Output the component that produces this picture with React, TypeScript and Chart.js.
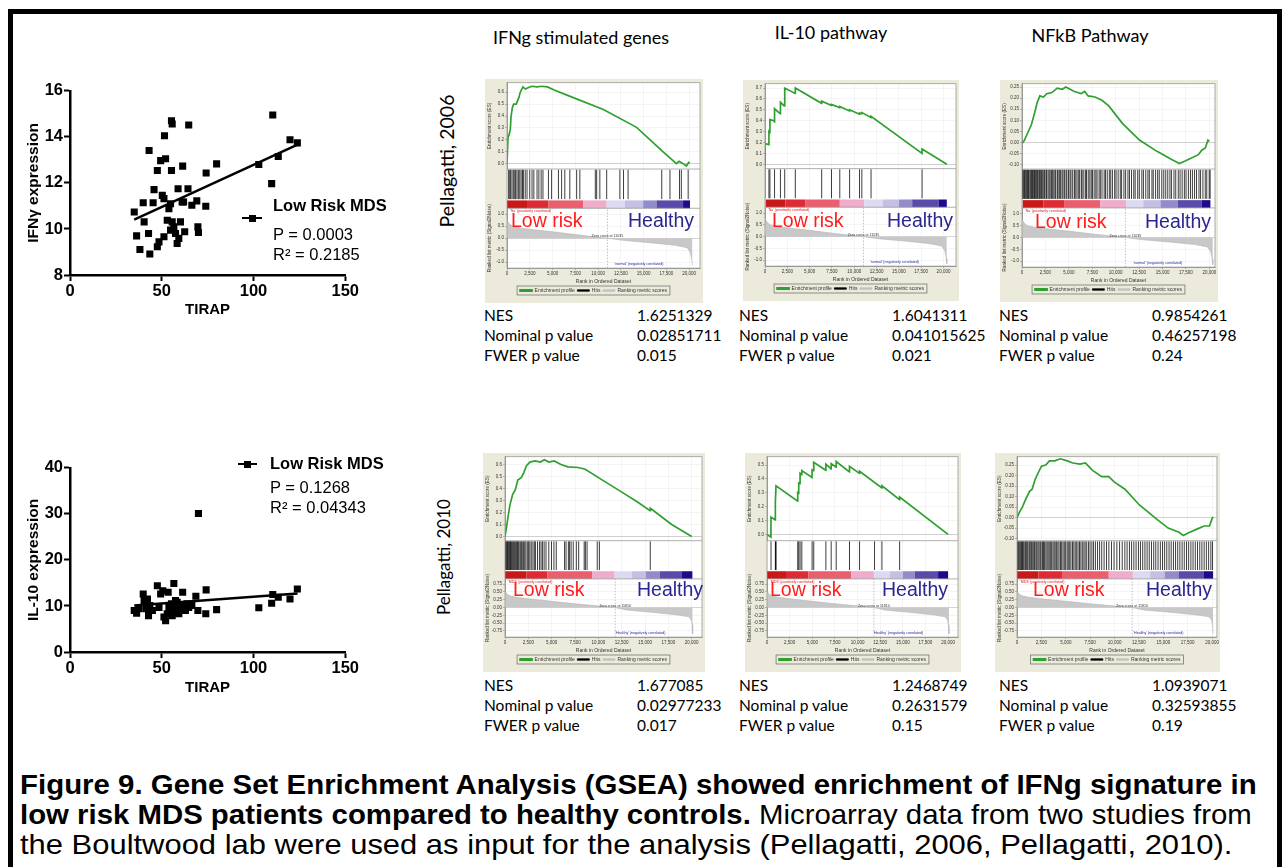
import React, { useEffect, useLayoutEffect, useRef } from 'react';
import { Chart, registerables } from 'chart.js';
Chart.register(...registerables);

const FONT_SANS = "'Liberation Sans', Arial, sans-serif";
const FONT_HUMAN = "Lato, 'Open Sans', sans-serif";

// ---------- Scatter: IFNγ vs TIRAP ----------
const ifngTirap = [35.0, 36.3, 38.1, 40.4, 39.9, 43.1, 42.8, 43.5, 45.3, 45.8, 47.6, 47.6, 48.5, 49.4, 50.3, 51.2, 51.5, 52.1, 51.2, 53.0, 53.9, 54.8, 55.3, 55.3, 55.7, 54.8, 55.7, 56.6, 57.5, 58.9, 58.4, 59.3, 60.2, 61.1, 61.4, 61.9, 62.5, 64.3, 64.7, 66.4, 69.1, 69.7, 70.0, 74.0, 74.2, 79.9, 102.9, 109.9, 110.5, 113.5, 119.9, 123.9];
const ifngExpr = [10.74, 9.70, 9.11, 10.31, 11.14, 13.41, 9.80, 8.91, 11.14, 11.71, 12.54, 9.23, 9.44, 12.97, 11.46, 11.32, 14.05, 13.05, 9.66, 10.38, 10.88, 11.10, 12.54, 14.70, 14.56, 9.95, 10.31, 10.09, 9.80, 11.75, 9.37, 9.59, 10.31, 11.17, 12.73, 11.17, 9.88, 11.75, 14.52, 11.03, 11.22, 10.09, 9.85, 10.99, 12.43, 12.83, 12.80, 11.97, 14.95, 13.15, 13.88, 13.74];
const ifngFitX = [35, 124];
const ifngFitY = [10.41, 13.67];

// ---------- Scatter: IL-10 vs TIRAP ----------
const il10Tirap = [35.0, 36.3, 37.4, 39.9, 40.4, 41.3, 42.2, 42.8, 43.5, 44.9, 47.6, 48.5, 49.4, 50.6, 51.2, 52.1, 53.0, 53.5, 53.9, 54.8, 55.3, 55.7, 56.6, 57.1, 57.8, 58.4, 59.3, 60.2, 61.4, 61.9, 62.9, 63.8, 64.7, 66.4, 68.6, 69.7, 70.0, 74.0, 74.2, 79.9, 102.9, 109.9, 110.5, 113.5, 119.9, 123.9, 57.5];
const il10Expr = [9.0, 8.4, 9.4, 12.6, 11.2, 9.4, 11.5, 7.9, 10.1, 9.0, 14.4, 9.7, 12.6, 13.3, 7.6, 6.8, 8.3, 13.0, 9.7, 8.6, 10.5, 7.9, 14.9, 9.7, 8.6, 10.8, 8.3, 9.4, 13.0, 10.1, 9.0, 10.5, 9.7, 10.1, 12.1, 9.0, 30.1, 8.3, 13.5, 9.2, 9.6, 10.6, 12.5, 11.9, 11.5, 13.7, 11.2];
const il10FitX = [35, 124];
const il10FitY = [10.1, 12.7];

// ---------- GSEA enrichment profiles ----------
const esA_x = [0, 110, 255, 365, 440, 585, 730, 1020, 1280, 1460, 1750, 2010, 2370, 2740, 3285, 3830, 4450, 5110, 6935, 10585, 14235, 17150, 18610, 18900, 19340, 19710, 19960, 20080];
const esA_y = [0, 0.22, 0.25, 0.29, 0.39, 0.47, 0.50, 0.50, 0.55, 0.60, 0.645, 0.627, 0.64, 0.65, 0.645, 0.65, 0.645, 0.62, 0.565, 0.455, 0.305, 0.10, 0.0, 0.02, 0.0, -0.02, 0.01, 0.005];
const hitsA = [180, 300, 400, 550, 700, 850, 950, 1100, 1250, 1400, 1550, 1700, 1800, 2000, 2200, 2500, 2750, 2950, 3300, 3500, 3750, 3950, 4550, 4900, 5650, 6000, 6350, 6900, 7650, 8000, 9700, 9850, 10200, 10950, 12400, 12800, 13300, 17000, 17900, 18950, 19150, 19900];

const esB_x = [0, 5, 430, 440, 540, 550, 1000, 1060, 1070, 1620, 1720, 1730, 2100, 2200, 2210, 3380, 3395, 6340, 6350, 7440, 7450, 8370, 8380, 9470, 9480, 10580, 10590, 10840, 10850, 11870, 11880, 17590, 17600, 20370];
const esB_y = [0, 0.19, 0.18, 0.30, 0.29, 0.41, 0.40, 0.39, 0.51, 0.47, 0.465, 0.57, 0.54, 0.535, 0.70, 0.65, 0.70, 0.56, 0.58, 0.54, 0.55, 0.52, 0.53, 0.49, 0.50, 0.46, 0.47, 0.465, 0.475, 0.43, 0.44, 0.10, 0.14, 0.0];
const hitsB = [0, 440, 550, 1070, 1730, 2210, 3395, 6350, 7450, 8380, 9480, 10590, 10850, 11880, 17600];

const esC_x = [0, 255, 625, 1000, 1360, 1620, 1910, 2280, 2650, 3200, 3750, 4300, 4670, 5590, 6320, 6690, 7060, 7790, 8530, 9260, 10740, 12570, 14410, 15880, 16800, 17350, 18090, 18820, 19190, 19560, 19850, 20000];
const esC_y = [-0.005, 0.01, 0.045, 0.08, 0.135, 0.18, 0.21, 0.205, 0.22, 0.225, 0.245, 0.24, 0.25, 0.23, 0.22, 0.23, 0.21, 0.205, 0.19, 0.165, 0.085, 0.01, -0.04, -0.075, -0.095, -0.085, -0.07, -0.055, -0.035, -0.025, 0.01, 0.005];
const hitsC = [60, 150, 260, 330, 420, 510, 580, 690, 760, 880, 970, 1040, 1130, 1210, 1330, 1390, 1480, 1570, 1660, 1790, 1880, 1960, 2090, 2170, 2320, 2410, 2560, 2630, 2780, 2900, 3010, 3160, 3240, 3390, 3520, 3600, 3770, 3850, 3990, 4120, 4270, 4380, 4530, 4700, 4790, 4960, 5120, 5230, 5410, 5590, 5680, 5860, 6010, 6150, 6330, 6420, 6600, 6790, 6880, 7070, 7240, 7390, 7520, 7700, 7880, 8010, 8230, 8360, 8540, 8770, 8910, 9100, 9320, 9470, 9650, 9890, 10040, 10260, 10490, 10630, 10880, 11060, 11310, 11470, 11690, 11930, 12080, 12350, 12520, 12790, 12960, 13210, 13440, 13590, 13870, 14010, 14260, 14480, 14650, 14920, 15130, 15340, 15560, 15790, 15950, 16220, 16410, 16680, 16870, 17090, 17330, 17510, 17760, 17980, 18190, 18420, 18630, 18890, 19060, 19310, 19560, 19720, 19980, 20080];

const esD_x = [0, 150, 300, 520, 815, 1110, 1370, 1740, 2000, 2300, 2670, 3220, 3780, 4220, 4700, 5260, 6000, 6740, 7850, 8590, 10440, 12300, 14150, 15540, 15570, 17850, 20000];
const esD_y = [0, 0.07, 0.15, 0.26, 0.35, 0.39, 0.47, 0.49, 0.53, 0.59, 0.62, 0.63, 0.62, 0.64, 0.62, 0.63, 0.60, 0.58, 0.575, 0.56, 0.47, 0.38, 0.29, 0.215, 0.235, 0.10, 0.0];
const hitsD = [30, 110, 190, 260, 340, 420, 500, 590, 660, 740, 830, 930, 1030, 1140, 1250, 1330, 1420, 1510, 1640, 1750, 1850, 1990, 2110, 2240, 2390, 2530, 2660, 2810, 2990, 3140, 3260, 3480, 3690, 3860, 4010, 4190, 4390, 4690, 4980, 5240, 5490, 6380, 6540, 6790, 6920, 7080, 7310, 7640, 7890, 8480, 8610, 8790, 9880, 10110, 15560];

const esE_x = [0, 430, 443, 910, 923, 996, 3390, 3395, 3500, 3506, 3650, 3653, 3840, 3845, 4970, 4982, 5160, 5166, 6500, 6505, 7085, 7090, 7640, 7645, 9110, 9115, 10220, 10225, 12690, 12695, 14645, 14650, 20000];
const esE_y = [0, -0.02, 0.125, 0.105, 0.23, 0.35, 0.24, 0.30, 0.295, 0.37, 0.365, 0.44, 0.43, 0.46, 0.41, 0.465, 0.46, 0.52, 0.462, 0.507, 0.473, 0.51, 0.485, 0.525, 0.45, 0.49, 0.44, 0.455, 0.335, 0.35, 0.25, 0.27, 0.0];
const hitsE = [443, 923, 960, 996, 3395, 3506, 3653, 3845, 4982, 5166, 6505, 7090, 7645, 9115, 10225, 11880, 12695, 14650];

const esF_x = [0, 295, 550, 920, 1290, 1550, 1845, 2140, 2510, 2950, 3320, 3875, 4430, 5170, 5720, 6460, 7010, 7750, 8670, 9410, 9960, 11070, 12550, 14390, 15500, 16610, 17050, 17710, 18450, 19190, 19740, 20000, 20110];
const esF_y = [0, 0.03, 0.05, 0.09, 0.125, 0.135, 0.18, 0.21, 0.245, 0.25, 0.27, 0.27, 0.28, 0.27, 0.26, 0.255, 0.26, 0.225, 0.195, 0.195, 0.17, 0.135, 0.06, -0.01, -0.05, -0.07, -0.085, -0.07, -0.055, -0.04, -0.04, -0.005, 0.003];
const hitsF = [40, 130, 210, 300, 390, 470, 560, 640, 730, 850, 930, 1020, 1110, 1240, 1320, 1430, 1510, 1620, 1730, 1810, 1940, 2030, 2150, 2260, 2380, 2470, 2610, 2720, 2830, 2960, 3080, 3190, 3310, 3450, 3560, 3690, 3810, 3920, 4060, 4190, 4310, 4460, 4580, 4720, 4850, 4990, 5140, 5260, 5400, 5530, 5690, 5830, 5970, 6120, 6260, 6410, 6550, 6700, 6860, 6990, 7150, 7330, 7490, 7680, 7850, 8040, 8260, 8470, 8690, 8930, 9180, 9420, 9690, 9950, 10240, 10520, 10790, 11060, 11290, 11530, 11750, 11980, 12210, 12450, 12660, 12890, 13120, 13340, 13560, 13790, 14020, 14230, 14460, 14700, 14920, 15140, 15360, 15590, 15810, 16040, 16260, 16480, 16700, 16930, 17150, 17380, 17600, 17830, 18050, 18280, 18510, 18740, 18960, 19190, 19420, 19650, 19880, 20050];

// ranked list metric (Signal2Noise)
const rank2006_x = [0, 200, 600, 1500, 3000, 5000, 7500, 11035, 13000, 16000, 18500, 19800, 20150, 20300, 20370];
const rank2006_y = [0.78, 0.62, 0.5, 0.42, 0.35, 0.27, 0.15, 0, -0.1, -0.2, -0.3, -0.4, -0.6, -0.9, -1.15];
const rank2010_x = [0, 150, 500, 1200, 2500, 5000, 7500, 11810, 13000, 16000, 18500, 19700, 19950, 20050, 20100];
const rank2010_y = [0.55, 0.45, 0.38, 0.33, 0.28, 0.2, 0.12, 0, -0.08, -0.16, -0.24, -0.3, -0.4, -0.55, -0.85];

// tick labels
const rankAxisTicks = [0, 2500, 5000, 7500, 10000, 12500, 15000, 17500, 20000];
const esTicksA = [0, 0.1, 0.2, 0.3, 0.4, 0.5, 0.6];
const esTicksB = [0, 0.1, 0.2, 0.3, 0.4, 0.5, 0.6, 0.7];
const esTicksC = [-0.1, -0.05, 0, 0.05, 0.1, 0.15, 0.2, 0.25];
const esTicksD = [0, 0.1, 0.2, 0.3, 0.4, 0.5, 0.6];
const esTicksE = [0, 0.1, 0.2, 0.3, 0.4, 0.5];
const esTicksF = [-0.1, -0.05, 0, 0.05, 0.1, 0.15, 0.2, 0.25];
const metricTicks2006 = [-1, -0.5, 0, 0.5, 1];
const metricTicks2010 = [-0.75, -0.5, -0.25, 0, 0.25, 0.5, 0.75];

// phenotype colour bar edges (rank positions)
const BAR_COLORS = ['#c91818', '#de2a34', '#ea5e6e', '#efaccb', '#dcdaf0', '#c4c0e4', '#928ccb', '#5a4aaa', '#1c0a8a'];
const barA = [0, 2200, 4560, 8390, 10950, 12960, 14960, 16420, 19340, 20100];
const barB = [70, 2290, 4500, 8380, 11140, 13170, 15020, 16490, 19450, 20370];
const barC = [70, 2280, 4490, 8350, 11100, 12940, 14780, 16620, 19190, 20110];
const barD = [0, 2300, 4520, 9330, 11740, 13590, 15070, 16560, 18960, 20070];
const barE = [0, 2100, 4580, 9300, 11810, 13550, 15020, 16310, 18900, 20000];
const barF = [0, 2210, 4610, 9410, 11880, 13650, 15130, 16610, 19110, 20110];

// statistics tables
const statLabels = ['NES', 'Nominal p value', 'FWER p value'];
const statsA = ['1.6251329', '0.02851711', '0.015'];
const statsB = ['1.6041311', '0.041015625', '0.021'];
const statsC = ['0.9854261', '0.46257198', '0.24'];
const statsD = ['1.677085', '0.02977233', '0.017'];
const statsE = ['1.2468749', '0.2631579', '0.15'];
const statsF = ['1.0939071', '0.32593855', '0.19'];

const columnTitles = ['IFNg stimulated genes', 'IL-10 pathway', 'NFkB Pathway'];

type Panel = {
  left: number; top: number; w: number; h: number;
  esX: number[]; esY: number[]; hits: number[];
  rankX: number[]; rankY: number[];
  esMin: number; esMax: number; esTicks: number[]; esDec: number;
  rankMin: number; rankMax: number; rankTicks: number[]; rankDec: number;
  xMax: number; bar: number[]; zeroCross: number;
  posLabel: string; negLabel: string;
};

const pos06 = "'Na' (positively correlated)";
const neg06 = "'normal' (negatively correlated)";
const pos10 = "'MDS' (positively correlated)";
const neg10 = "'Healthy' (negatively correlated)";

const panels: Panel[] = [
  { left: 485, top: 79, w: 218, h: 224, esX: esA_x, esY: esA_y, hits: hitsA, rankX: rank2006_x, rankY: rank2006_y, esMin: -0.045, esMax: 0.68, esTicks: esTicksA, esDec: 1, rankMin: -1.25, rankMax: 1.25, rankTicks: metricTicks2006, rankDec: 1, xMax: 21200, bar: barA, zeroCross: 11035, posLabel: pos06, negLabel: neg06 },
  { left: 743, top: 80, w: 216, h: 221, esX: esB_x, esY: esB_y, hits: hitsB, rankX: rank2006_x, rankY: rank2006_y, esMin: -0.04, esMax: 0.74, esTicks: esTicksB, esDec: 1, rankMin: -1.25, rankMax: 1.25, rankTicks: metricTicks2006, rankDec: 1, xMax: 21400, bar: barB, zeroCross: 11035, posLabel: pos06, negLabel: neg06 },
  { left: 1000, top: 80, w: 218, h: 222, esX: esC_x, esY: esC_y, hits: hitsC, rankX: rank2006_x, rankY: rank2006_y, esMin: -0.12, esMax: 0.265, esTicks: esTicksC, esDec: 2, rankMin: -1.25, rankMax: 1.25, rankTicks: metricTicks2006, rankDec: 1, xMax: 20600, bar: barC, zeroCross: 11035, posLabel: pos06, negLabel: neg06 },
  { left: 483, top: 453, w: 222, h: 219, esX: esD_x, esY: esD_y, hits: hitsD, rankX: rank2010_x, rankY: rank2010_y, esMin: -0.035, esMax: 0.665, esTicks: esTicksD, esDec: 1, rankMin: -0.95, rankMax: 0.92, rankTicks: metricTicks2010, rankDec: 2, xMax: 21100, bar: barD, zeroCross: 11810, posLabel: pos10, negLabel: neg10 },
  { left: 745, top: 453, w: 216, h: 219, esX: esE_x, esY: esE_y, hits: hitsE, rankX: rank2010_x, rankY: rank2010_y, esMin: -0.045, esMax: 0.56, esTicks: esTicksE, esDec: 1, rankMin: -0.95, rankMax: 0.92, rankTicks: metricTicks2010, rankDec: 2, xMax: 21100, bar: barE, zeroCross: 11810, posLabel: pos10, negLabel: neg10 },
  { left: 995, top: 453, w: 225, h: 219, esX: esF_x, esY: esF_y, hits: hitsF, rankX: rank2010_x, rankY: rank2010_y, esMin: -0.11, esMax: 0.29, esTicks: esTicksF, esDec: 2, rankMin: -0.95, rankMax: 0.92, rankTicks: metricTicks2010, rankDec: 2, xMax: 20500, bar: barF, zeroCross: 11810, posLabel: pos10, negLabel: neg10 },
];

const panelStats = [statsA, statsB, statsC, statsD, statsE, statsF];

// ---------------- chart builders ----------------
function scatterConfig(xs: number[], ys: number[], fx: number[], fy: number[], yMin: number, yMax: number, yStep: number, yTitle: string, titlePadBottom: number): any {
  return {
    type: 'scatter',
    data: {
      datasets: [
        { data: xs.map((x, i) => ({ x, y: ys[i] })), pointStyle: 'rect', pointRadius: 5, pointBackgroundColor: '#000', pointBorderColor: '#000', pointBorderWidth: 0 },
        { type: 'line', data: fx.map((x, i) => ({ x, y: fy[i] })), borderColor: '#000', borderWidth: 2.5, pointRadius: 0, showLine: true },
      ],
    },
    options: {
      animation: false, responsive: false, events: [],
      layout: { padding: { top: 10, right: 11, left: 0, bottom: 0 } },
      plugins: { legend: { display: false }, tooltip: { enabled: false } },
      scales: {
        x: {
          type: 'linear', min: 0, max: 150,
          ticks: { stepSize: 50, color: '#000', font: { family: FONT_SANS, size: 16.5, weight: 'bold' }, padding: 1, maxRotation: 0 },
          grid: { drawOnChartArea: false, tickLength: 6, tickWidth: 2, tickColor: '#000' },
          border: { color: '#000', width: 2.5 },
          title: { display: true, text: 'TIRAP', color: '#000', font: { family: FONT_SANS, size: 15, weight: 'bold' }, padding: { top: 0, bottom: titlePadBottom } },
          afterFit: (s: any) => { s.height = 50; },
        },
        y: {
          type: 'linear', min: yMin, max: yMax,
          ticks: { stepSize: yStep, color: '#000', font: { family: FONT_SANS, size: 16.5, weight: 'bold' }, padding: 1 },
          grid: { drawOnChartArea: false, tickLength: 6, tickWidth: 2, tickColor: '#000' },
          border: { color: '#000', width: 2.5 },
          title: { display: true, text: yTitle, color: '#000', font: { family: FONT_SANS, size: 15.5, weight: 'bold' }, padding: { top: 4, bottom: 0 } },
          afterFit: (s: any) => { s.width = 50; },
        },
      },
    },
  };
}

const gseaPlugin = {
  id: 'gsea',
  beforeDraw(chart: any) {
    const { ctx, chartArea } = chart;
    ctx.save();
    ctx.fillStyle = '#ffffff';
    ctx.fillRect(chartArea.left, chartArea.top, chartArea.width, chartArea.height);
    ctx.restore();
  },
  afterDatasetsDraw(chart: any, _args: any, opts: any) {
    const { ctx, chartArea } = chart;
    const xs = chart.scales.x, yh = chart.scales.yHits, yr = chart.scales.yRank;
    const bar: number[] = opts.bar;
    const top = yh.getPixelForValue(0), bot = yh.getPixelForValue(-0.25);
    ctx.save();
    for (let i = 0; i < bar.length - 1; i++) {
      const a = xs.getPixelForValue(bar[i]);
      const b = xs.getPixelForValue(bar[i + 1]);
      ctx.fillStyle = BAR_COLORS[i];
      ctx.fillRect(a, top, b - a, bot - top);
    }
    ctx.strokeStyle = '#9a9a9a';
    ctx.lineWidth = 0.8;
    [yh.top, yh.bottom].forEach((y: number) => {
      ctx.beginPath(); ctx.moveTo(chartArea.left, y); ctx.lineTo(chartArea.right, y); ctx.stroke();
    });
    ctx.strokeRect(chartArea.left, chartArea.top, chartArea.width, chartArea.height);
    ctx.font = `3.6px ${FONT_SANS}`;
    ctx.textBaseline = 'middle';
    ctx.fillStyle = '#e01818';
    ctx.textAlign = 'left';
    ctx.fillText(opts.posLabel, chartArea.left + 3, yr.top + 3);
    ctx.fillStyle = '#333';
    ctx.textAlign = 'center';
    ctx.fillText(`Zero cross at ${opts.zeroCross}`, xs.getPixelForValue(opts.zeroCross), yr.getPixelForValue(0) - 2);
    ctx.fillStyle = '#2020a0';
    ctx.fillText(opts.negLabel, xs.getPixelForValue(14500), yr.bottom - 4);
    ctx.restore();
  },
  afterDraw(chart: any) {
    const l = chart.legend;
    if (!l || !l.legendHitBoxes || !l.legendHitBoxes.length) return;
    const boxes = l.legendHitBoxes;
    let minX = Infinity, maxX = -Infinity, minY = Infinity, maxY = -Infinity;
    boxes.forEach((b: any) => {
      minX = Math.min(minX, b.left); maxX = Math.max(maxX, b.left + b.width);
      minY = Math.min(minY, b.top); maxY = Math.max(maxY, b.top + b.height);
    });
    const { ctx } = chart;
    ctx.save();
    ctx.strokeStyle = '#777';
    ctx.lineWidth = 0.8;
    ctx.strokeRect(minX - 3, minY - 2, maxX - minX + 6, maxY - minY + 4);
    ctx.restore();
  },
};

function fixedTicks(values: number[]) {
  return (s: any) => { s.ticks = values.map((v) => ({ value: v })); };
}

function gseaConfig(p: Panel): any {
  const hitData: any[] = [];
  p.hits.forEach((h) => { hitData.push({ x: h, y: 0.04 }, { x: h, y: 0.98 }, { x: h, y: null }); });
  const tickFont = { family: FONT_SANS, size: 4.5 };
  const titleFont = { family: FONT_SANS, size: 4.6 };
  return {
    type: 'line',
    data: {
      datasets: [
        { label: 'Enrichment profile', data: p.esX.map((x, i) => ({ x, y: p.esY[i] })), yAxisID: 'yES', borderColor: '#2fa02f', backgroundColor: '#2fa02f', borderWidth: 1.7, pointRadius: 0, tension: 0 },
        { label: 'Hits', data: hitData, yAxisID: 'yHits', borderColor: 'rgba(0,0,0,0.85)', backgroundColor: '#000', borderWidth: 0.9, pointRadius: 0, spanGaps: false },
        { label: 'Ranking metric scores', data: p.rankX.map((x, i) => ({ x, y: p.rankY[i] })), yAxisID: 'yRank', borderColor: '#b4b4b4', backgroundColor: '#c8c8c8', borderWidth: 0.6, pointRadius: 0, fill: 'origin' },
        { label: '', data: [{ x: p.zeroCross, y: p.rankMin }, { x: p.zeroCross, y: p.rankMax }], yAxisID: 'yRank', borderColor: '#999', borderWidth: 0.6, borderDash: [1.5, 1.5], pointRadius: 0 },
      ],
    },
    plugins: [gseaPlugin],
    options: {
      animation: false, responsive: false, events: [],
      layout: { padding: { top: 2, right: 3, left: 2, bottom: 0 } },
      plugins: {
        tooltip: { enabled: false },
        legend: {
          position: 'bottom',
          labels: { font: { family: FONT_SANS, size: 5 }, color: '#333', boxWidth: 12, boxHeight: 1.4, padding: 2.5, filter: (item: any) => !!item.text },
        },
        gsea: { bar: p.bar, zeroCross: p.zeroCross, posLabel: p.posLabel, negLabel: p.negLabel },
      },
      scales: {
        x: {
          type: 'linear', min: 0, max: p.xMax, offset: false,
          afterBuildTicks: fixedTicks(rankAxisTicks),
          ticks: { font: tickFont, color: '#333', padding: 1, maxRotation: 0, minRotation: 0, autoSkip: false, callback: (v: number) => Number(v).toLocaleString('en-US') },
          grid: { color: '#ececec', lineWidth: 0.6, tickLength: 2, tickColor: '#888' },
          border: { color: '#999' },
          title: { display: true, text: 'Rank in Ordered Dataset', font: { family: FONT_SANS, size: 5 }, color: '#333', padding: { top: 1, bottom: 1 } },
        },
        yRank: {
          type: 'linear', position: 'left', stack: 'g', stackWeight: 61, min: p.rankMin, max: p.rankMax,
          afterBuildTicks: fixedTicks(p.rankTicks),
          ticks: { font: tickFont, color: '#333', padding: 1, autoSkip: false, callback: (v: number) => Number(v).toFixed(p.rankDec) },
          grid: { color: (c: any) => (c.tick && Math.abs(c.tick.value) < 1e-9 ? '#bbbbbb' : '#ececec'), lineWidth: 0.6, tickLength: 2, tickColor: '#888' },
          border: { color: '#999' },
          title: { display: true, text: 'Ranked list metric (Signal2Noise)', font: titleFont, color: '#333', padding: { top: 0, bottom: 0 } },
          afterFit: (s: any) => { s.width = 20; },
        },
        yHits: {
          type: 'linear', position: 'left', stack: 'g', stackWeight: 40, min: -0.25, max: 1.0,
          ticks: { display: false },
          grid: { display: false },
          border: { display: false },
          afterFit: (s: any) => { s.width = 20; },
        },
        yES: {
          type: 'linear', position: 'left', stack: 'g', stackWeight: 88, min: p.esMin, max: p.esMax,
          afterBuildTicks: fixedTicks(p.esTicks),
          ticks: { font: tickFont, color: '#333', padding: 1, autoSkip: false, callback: (v: number) => Number(v).toFixed(p.esDec) },
          grid: { color: (c: any) => (c.tick && Math.abs(c.tick.value) < 1e-9 ? '#b0b0b0' : '#ececec'), lineWidth: 0.6, tickLength: 2, tickColor: '#888' },
          border: { color: '#999' },
          title: { display: true, text: 'Enrichment score (ES)', font: titleFont, color: '#333', padding: { top: 0, bottom: 0 } },
          afterFit: (s: any) => { s.width = 20; },
        },
      },
    },
  };
}

// ---------------- components ----------------
function ChartBox({ left, top, width, height, bg, make }: { left: number; top: number; width: number; height: number; bg?: string; make: () => any }) {
  const ref = useRef<HTMLCanvasElement>(null);
  useEffect(() => {
    const c = new Chart(ref.current as HTMLCanvasElement, make());
    return () => c.destroy();
  }, []);
  return (
    <div style={{ position: 'absolute', left, top, width, height, background: bg || 'transparent' }}>
      <canvas ref={ref} width={width} height={height} style={{ width, height, display: 'block' }} />
    </div>
  );
}

function Label({ x, y, size, children, color = '#000', weight = 'normal', family = FONT_SANS, align = 'left' }: any) {
  const style: React.CSSProperties = {
    position: 'absolute', top: y - size * 0.6, fontSize: size, lineHeight: `${size * 1.2}px`,
    color, fontWeight: weight as any, fontFamily: family, whiteSpace: 'nowrap',
  };
  if (align === 'left') style.left = x;
  else if (align === 'center') { style.left = x; style.transform = 'translateX(-50%)'; }
  else style.right = 1282 - x;
  return <div style={style}>{children}</div>;
}

function LegendSymbol({ x1, x2, y }: { x1: number; x2: number; y: number }) {
  const mid = (x1 + x2) / 2;
  return (
    <>
      <div style={{ position: 'absolute', left: x1, top: y - 1.25, width: x2 - x1, height: 2.5, background: '#000' }} />
      <div style={{ position: 'absolute', left: mid - 3.5, top: y - 3.5, width: 7, height: 7, background: '#000' }} />
    </>
  );
}

const lowRiskPos = [[511, 221, 628, 221], [772, 221, 887, 221], [1035, 222, 1145, 222], [513, 590, 637, 590], [770, 590, 882, 590], [1033, 590, 1146, 590]];
const statPos = [[484, 637, 315], [739, 892, 315], [999, 1152, 315], [484, 637, 685], [739, 892, 685], [999, 1152, 685]];

function Caption() {
  const refs = [useRef<HTMLDivElement>(null), useRef<HTMLDivElement>(null), useRef<HTMLDivElement>(null)];
  const targets = [1237, 1232, 1212];
  useLayoutEffect(() => {
    refs.forEach((r, i) => {
      const el = r.current;
      if (!el) return;
      el.style.transform = 'none';
      const w = el.offsetWidth;
      if (w > 0) el.style.transform = `scaleX(${targets[i] / w})`;
    });
  }, []);
  const base: React.CSSProperties = { position: 'absolute', left: 20, fontFamily: FONT_SANS, fontSize: 28, lineHeight: '33px', whiteSpace: 'nowrap', transformOrigin: 'left center', color: '#000' };
  return (
    <>
      <div ref={refs[0]} style={{ ...base, top: 785 - 17, fontWeight: 'bold' }}>Figure 9. Gene Set Enrichment Analysis (GSEA) showed enrichment of IFNg signature in</div>
      <div ref={refs[1]} style={{ ...base, top: 815 - 17 }}><b>low risk MDS patients compared to healthy controls.</b> Microarray data from two studies from</div>
      <div ref={refs[2]} style={{ ...base, top: 845 - 17 }}>the Boultwood lab were used as input for the analysis (Pellagatti, 2006, Pellagatti, 2010).</div>
    </>
  );
}

export default function App() {
  return (
    <div style={{ position: 'absolute', left: 0, top: 0, width: 1282, height: 867, overflow: 'hidden', background: '#fff' }}>
      <div style={{ position: 'absolute', left: 8, top: 9, width: 1274, height: 920, border: '5px solid #000', boxSizing: 'border-box' }} />

      <Label x={581} y={38} size={18} family={FONT_HUMAN} align="center">{columnTitles[0]}</Label>
      <Label x={831} y={33} size={18} family={FONT_HUMAN} align="center">{columnTitles[1]}</Label>
      <Label x={1090} y={36} size={18} family={FONT_HUMAN} align="center">{columnTitles[2]}</Label>

      <div style={{ position: 'absolute', left: 446, top: 161, transform: 'translate(-50%,-50%) rotate(-90deg)', fontFamily: FONT_HUMAN, fontSize: 19.5, whiteSpace: 'nowrap' }}>Pellagatti, 2006</div>
      <div style={{ position: 'absolute', left: 443, top: 557, transform: 'translate(-50%,-50%) rotate(-90deg)', fontFamily: FONT_HUMAN, fontSize: 17, whiteSpace: 'nowrap' }}>Pellagatti, 2010</div>

      <ChartBox left={20} top={80} width={340} height={245} make={() => scatterConfig(ifngTirap, ifngExpr, ifngFitX, ifngFitY, 8, 16, 2, 'IFNγ expression', 6)} />
      <ChartBox left={20} top={457} width={340} height={245} make={() => scatterConfig(il10Tirap, il10Expr, il10FitX, il10FitY, 0, 40, 10, 'IL-10 expression', 5)} />

      <Label x={273} y={206} size={16.5} weight="bold">Low Risk MDS</Label>
      <LegendSymbol x1={242} x2={262} y={218} />
      <Label x={273} y={235} size={16.5}>P = 0.0003</Label>
      <Label x={273} y={255} size={16.5}>R² = 0.2185</Label>

      <LegendSymbol x1={238} x2={257} y={464} />
      <Label x={270} y={464} size={16.5} weight="bold">Low Risk MDS</Label>
      <Label x={270} y={488} size={16.5}>P = 0.1268</Label>
      <Label x={270} y={508} size={16.5}>R² = 0.04343</Label>

      {panels.map((p, i) => (
        <ChartBox key={i} left={p.left} top={p.top} width={p.w} height={p.h} bg="#ecebdb" make={() => gseaConfig(p)} />
      ))}
      {lowRiskPos.map((q, i) => (
        <React.Fragment key={'lr' + i}>
          <Label x={q[0]} y={q[1]} size={19.5} color="#ff1c1c">Low risk</Label>
          <Label x={q[2]} y={q[3]} size={19.5} color="#2b2590">Healthy</Label>
        </React.Fragment>
      ))}

      {statPos.map((s, i) => (
        <React.Fragment key={'st' + i}>
          {statLabels.map((lab, j) => (
            <Label key={'l' + j} x={s[0]} y={s[2] + j * 20} size={15.5} family={FONT_HUMAN}>{lab}</Label>
          ))}
          {panelStats[i].map((v, j) => (
            <Label key={'v' + j} x={s[1]} y={s[2] + j * 20} size={15.5} family={FONT_HUMAN}>{v}</Label>
          ))}
        </React.Fragment>
      ))}

      <Caption />
    </div>
  );
}
